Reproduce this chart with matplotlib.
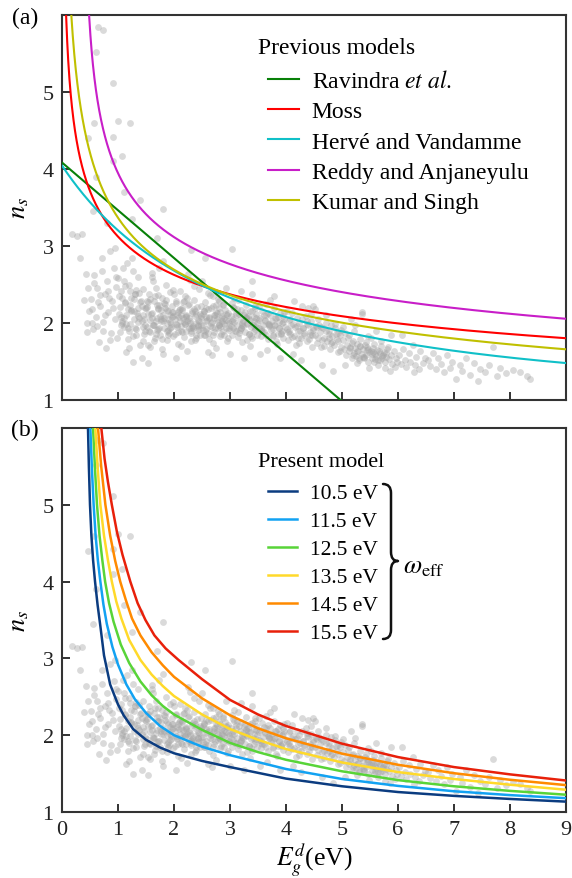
import numpy as np
import matplotlib
matplotlib.use("Agg")
import matplotlib.pyplot as plt
from matplotlib.path import Path
from matplotlib.patches import PathPatch

# ---------------- data ----------------
# grey cloud of materials (E_g^d in eV, n_s), per band-gap bin
cloud_00_x = [0.18, 0.27, 0.36, 0.42, 0.45, 0.40, 0.47, 0.33, 0.44, 0.48]
cloud_00_y = [3.16, 3.13, 3.15, 2.64, 2.00, 2.30, 2.45, 2.85, 1.88, 2.15]
cloud_out_x = [0.65, 0.73, 0.60, 0.91, 1.00, 1.21, 0.57, 0.47, 0.91, 1.07, 0.91, 0.60, 1.10, 1.80, 1.40, 3.03, 1.70, 0.55, 0.80, 1.25, 2.30, 2.55, 4.49, 5.35, 3.40]
cloud_out_y = [5.84, 5.80, 5.52, 5.12, 4.62, 4.60, 4.60, 4.40, 4.42, 4.17, 4.10, 3.90, 3.70, 3.48, 3.60, 2.96, 3.10, 3.45, 3.30, 3.35, 2.95, 2.85, 2.22, 2.14, 2.55]
cloud_05_x = [0.52, 0.55, 0.58, 0.61, 0.63, 0.66, 0.68, 0.71, 0.73, 0.76, 0.78, 0.80, 0.83, 0.85, 0.87, 0.90, 0.92, 0.95, 0.97, 0.99,
              0.53, 0.57, 0.62, 0.67, 0.72, 0.77, 0.82, 0.86, 0.91, 0.96, 0.54, 0.64, 0.74, 0.84, 0.94]
cloud_05_y = [2.31, 1.92, 2.62, 2.08, 2.45, 1.75, 2.22, 2.85, 2.01, 2.38, 1.68, 2.55, 2.14, 2.93, 1.87, 2.29, 2.71, 2.05, 2.47, 1.81,
              2.18, 2.52, 1.96, 2.36, 2.67, 2.11, 2.42, 1.78, 2.20, 2.60, 2.00, 2.27, 1.90, 2.33, 2.98]
cloud_10_x = [1.01, 1.03, 1.05, 1.07, 1.09, 1.11, 1.13, 1.15, 1.17, 1.19, 1.21, 1.23, 1.25, 1.27, 1.29, 1.31, 1.33, 1.35, 1.37, 1.39,
              1.41, 1.43, 1.45, 1.47, 1.49, 1.02, 1.06, 1.10, 1.14, 1.18, 1.22, 1.26, 1.30, 1.34, 1.38, 1.42, 1.46, 1.04, 1.12, 1.20,
              1.28, 1.36, 1.44, 1.08, 1.16, 1.24, 1.32, 1.40, 1.48, 1.00, 1.19, 1.33, 1.45, 1.27, 1.11]
cloud_10_y = [2.12, 1.88, 2.41, 2.03, 2.72, 1.95, 2.26, 1.62, 2.18, 2.49, 1.99, 2.33, 2.85, 1.83, 2.15, 2.38, 1.92, 2.60, 2.07, 1.71,
              2.29, 2.02, 2.44, 1.86, 2.20, 2.35, 1.97, 2.55, 2.10, 1.79, 2.24, 2.67, 1.94, 2.13, 2.39, 1.55, 2.05, 2.21, 2.48, 1.90,
              2.31, 2.09, 1.76, 2.00, 2.78, 2.17, 1.85, 2.27, 1.98, 2.58, 1.67, 2.43, 2.11, 1.50, 2.06]
cloud_15_x = [1.51, 1.52, 1.54, 1.55, 1.57, 1.58, 1.60, 1.61, 1.63, 1.64, 1.66, 1.67, 1.69, 1.70, 1.72, 1.73, 1.75, 1.76, 1.78, 1.79,
              1.81, 1.82, 1.84, 1.85, 1.87, 1.88, 1.90, 1.91, 1.93, 1.94, 1.96, 1.97, 1.99, 1.53, 1.56, 1.59, 1.62, 1.65, 1.68, 1.71,
              1.74, 1.77, 1.80, 1.83, 1.86, 1.89, 1.92, 1.95, 1.98, 1.50, 1.57, 1.63, 1.69, 1.75, 1.81, 1.87, 1.93, 1.99, 1.54, 1.66,
              1.78, 1.90, 1.60, 1.72, 1.84]
cloud_15_y = [1.95, 2.21, 1.72, 2.38, 2.04, 1.88, 2.60, 2.13, 1.97, 2.29, 1.81, 2.45, 2.07, 1.91, 2.18, 2.72, 1.85, 2.02, 2.33, 1.66,
              2.10, 1.94, 2.25, 2.50, 1.78, 2.00, 2.15, 1.87, 2.40, 1.99, 2.08, 2.22, 1.83, 2.27, 1.90, 2.12, 2.55, 1.76, 2.03, 2.36,
              1.93, 2.17, 1.60, 2.06, 2.30, 1.84, 2.11, 1.95, 2.43, 2.19, 1.69, 1.98, 2.24, 2.09, 2.80, 1.89, 2.01, 2.14, 1.48, 2.35,
              1.79, 2.05, 2.65, 1.92, 2.20]
cloud_20_x = [2.01, 2.02, 2.04, 2.05, 2.07, 2.08, 2.10, 2.11, 2.13, 2.14, 2.16, 2.17, 2.19, 2.20, 2.22, 2.23, 2.25, 2.26, 2.28, 2.29,
              2.31, 2.32, 2.34, 2.35, 2.37, 2.38, 2.40, 2.41, 2.43, 2.44, 2.46, 2.47, 2.49, 2.03, 2.06, 2.09, 2.12, 2.15, 2.18, 2.21,
              2.24, 2.27, 2.30, 2.33, 2.36, 2.39, 2.42, 2.45, 2.48, 2.00, 2.07, 2.13, 2.19, 2.25, 2.31, 2.37, 2.43, 2.49, 2.04, 2.16,
              2.28, 2.40, 2.10, 2.22, 2.34]
cloud_20_y = [2.05, 1.86, 2.28, 1.97, 2.14, 1.73, 2.41, 2.02, 1.90, 2.19, 2.07, 1.82, 2.35, 1.99, 2.11, 1.64, 2.24, 1.93, 2.03, 2.56,
              1.87, 2.16, 1.96, 2.30, 1.78, 2.09, 2.00, 2.21, 1.91, 2.44, 1.84, 2.12, 1.98, 2.26, 1.95, 2.08, 1.70, 2.17, 2.01, 1.89,
              2.33, 2.06, 1.94, 2.13, 2.48, 1.81, 2.04, 1.92, 2.22, 2.38, 1.88, 2.10, 1.99, 2.63, 1.76, 2.15, 1.96, 2.07, 1.55, 2.27,
              2.00, 1.85, 2.18, 2.09, 1.93]
cloud_25_x = [2.51, 2.52, 2.54, 2.55, 2.57, 2.58, 2.60, 2.62, 2.63, 2.65, 2.67, 2.68, 2.70, 2.72, 2.73, 2.75, 2.77, 2.78, 2.80, 2.82,
              2.83, 2.85, 2.87, 2.88, 2.90, 2.92, 2.93, 2.95, 2.97, 2.98, 2.53, 2.56, 2.59, 2.61, 2.64, 2.66, 2.69, 2.71, 2.74, 2.76,
              2.79, 2.81, 2.84, 2.86, 2.89, 2.91, 2.94, 2.96, 2.99, 2.50, 2.58, 2.67, 2.75, 2.83, 2.92, 2.55, 2.70, 2.85, 2.60, 2.80]
cloud_25_y = [1.98, 2.12, 1.85, 2.27, 2.03, 1.92, 2.18, 1.79, 2.08, 2.36, 1.95, 2.01, 2.22, 1.88, 2.10, 1.68, 2.05, 2.31, 1.97, 2.14,
              1.83, 2.02, 2.25, 1.90, 2.07, 2.45, 1.94, 2.11, 1.80, 2.00, 2.16, 1.89, 2.04, 2.39, 1.96, 2.20, 1.74, 2.06, 1.93, 2.13,
              2.01, 2.28, 1.86, 2.09, 1.99, 2.17, 1.77, 2.03, 1.91, 2.55, 2.08, 1.58, 2.24, 1.95, 2.12, 1.84, 2.35, 2.00, 1.62, 2.19]
cloud_30_x = [3.01, 3.02, 3.04, 3.05, 3.07, 3.09, 3.10, 3.12, 3.14, 3.15, 3.17, 3.19, 3.20, 3.22, 3.24, 3.25, 3.27, 3.29, 3.30, 3.32,
              3.34, 3.35, 3.37, 3.39, 3.40, 3.42, 3.44, 3.45, 3.47, 3.49, 3.03, 3.06, 3.11, 3.16, 3.21, 3.26, 3.31, 3.36, 3.41, 3.46,
              3.08, 3.18, 3.28, 3.38, 3.48, 3.13, 3.23, 3.33, 3.43, 3.00, 3.19, 3.35, 3.05, 3.25, 3.45]
cloud_30_y = [1.96, 2.09, 1.84, 2.21, 2.01, 1.90, 2.13, 1.97, 2.30, 1.82, 2.05, 1.93, 2.17, 1.75, 2.03, 2.11, 1.88, 2.24, 1.99, 2.06,
              1.86, 2.15, 1.95, 2.38, 1.80, 2.02, 1.92, 2.19, 2.07, 1.85, 2.26, 1.94, 2.10, 1.87, 2.00, 2.14, 1.78, 2.04, 1.97, 2.12,
              2.33, 1.91, 2.08, 1.83, 2.00, 2.18, 1.96, 2.09, 1.89, 1.60, 2.42, 1.70, 2.05, 1.55, 2.22]
cloud_35_x = [3.51, 3.53, 3.55, 3.57, 3.59, 3.61, 3.63, 3.65, 3.67, 3.69, 3.71, 3.73, 3.75, 3.77, 3.79, 3.81, 3.83, 3.85, 3.87, 3.89,
              3.91, 3.93, 3.95, 3.97, 3.99, 3.52, 3.56, 3.60, 3.64, 3.68, 3.72, 3.76, 3.80, 3.84, 3.88, 3.92, 3.96, 3.54, 3.62, 3.70,
              3.78, 3.86, 3.94, 3.66, 3.90]
cloud_35_y = [1.94, 2.07, 1.83, 2.16, 1.98, 1.88, 2.04, 2.25, 1.79, 1.96, 2.10, 1.91, 2.02, 1.85, 2.19, 1.97, 1.76, 2.08, 1.93, 2.13,
              1.87, 2.00, 1.81, 2.05, 1.95, 2.22, 1.90, 2.11, 1.84, 1.99, 2.30, 1.92, 2.06, 1.73, 2.01, 1.89, 2.14, 1.60, 2.03, 1.97,
              2.35, 1.86, 2.09, 1.65, 1.55]
cloud_40_x = [4.01, 4.03, 4.05, 4.07, 4.09, 4.11, 4.14, 4.16, 4.18, 4.20, 4.22, 4.24, 4.27, 4.29, 4.31, 4.33, 4.35, 4.38, 4.40, 4.42,
              4.44, 4.46, 4.48, 4.02, 4.06, 4.10, 4.15, 4.19, 4.23, 4.28, 4.32, 4.37, 4.41, 4.45, 4.49, 4.12, 4.26, 4.39]
cloud_40_y = [1.92, 1.78, 2.04, 1.86, 1.97, 2.13, 1.83, 1.95, 1.72, 2.06, 1.89, 2.00, 1.80, 2.22, 1.93, 1.85, 2.09, 1.76, 1.98, 1.88,
              2.02, 1.69, 1.94, 2.16, 1.90, 1.82, 2.28, 1.96, 1.74, 2.05, 1.87, 1.99, 1.79, 2.12, 1.91, 1.60, 1.52, 2.20]
cloud_45_x = [4.51, 4.53, 4.56, 4.58, 4.61, 4.63, 4.66, 4.68, 4.71, 4.73, 4.76, 4.78, 4.81, 4.83, 4.86, 4.88, 4.91, 4.93, 4.96, 4.98,
              4.52, 4.57, 4.62, 4.67, 4.72, 4.77, 4.82, 4.87, 4.92, 4.97, 4.64, 4.84]
cloud_45_y = [1.85, 1.96, 1.74, 2.05, 1.88, 1.69, 1.93, 1.80, 2.00, 1.77, 1.90, 1.66, 1.98, 1.83, 1.72, 1.94, 1.79, 1.87, 1.64, 1.91,
              2.18, 1.81, 1.95, 1.70, 2.10, 1.86, 1.75, 1.99, 1.62, 1.84, 1.45, 1.38]
cloud_50_x = [5.01, 5.03, 5.05, 5.07, 5.09, 5.11, 5.13, 5.15, 5.17, 5.19, 5.21, 5.23, 5.25, 5.27, 5.29, 5.31, 5.33, 5.35, 5.37, 5.39,
              5.41, 5.43, 5.45, 5.47, 5.49, 5.02, 5.12, 5.22, 5.32, 5.42, 5.16, 5.26, 5.36, 5.46, 5.06, 5.24, 5.38, 5.48]
cloud_50_y = [1.78, 1.66, 1.87, 1.59, 1.72, 1.81, 1.63, 1.69, 1.55, 1.76, 1.61, 1.68, 1.57, 1.73, 1.64, 1.52, 1.70, 1.60, 1.66, 1.54,
              1.71, 1.58, 1.65, 1.50, 1.62, 1.95, 1.84, 1.90, 1.79, 1.75, 2.05, 1.48, 2.12, 1.83, 1.45, 1.97, 1.56, 1.42]
cloud_55_x = [5.51, 5.53, 5.55, 5.57, 5.59, 5.61, 5.63, 5.65, 5.67, 5.69, 5.71, 5.73, 5.75, 5.77, 5.79, 5.81, 5.84, 5.87, 5.90, 5.93,
              5.96, 5.99, 5.52, 5.58, 5.64, 5.70, 5.76, 5.82, 5.88, 5.94, 5.60, 5.85]
cloud_55_y = [1.63, 1.55, 1.68, 1.50, 1.60, 1.57, 1.65, 1.52, 1.61, 1.70, 1.54, 1.58, 1.62, 1.49, 1.56, 1.66, 1.53, 1.59, 1.47, 1.64,
              1.55, 1.50, 1.80, 1.73, 1.45, 1.77, 1.41, 1.69, 1.84, 1.43, 1.90, 1.38]
cloud_60_x = [6.02, 6.05, 6.09, 6.12, 6.15, 6.19, 6.22, 6.26, 6.30, 6.33, 6.37, 6.40, 6.44, 6.48, 6.07, 6.28,
              6.53, 6.58, 6.62, 6.67, 6.72, 6.77, 6.82, 6.87, 6.92, 6.97]
cloud_60_y = [1.58, 1.47, 1.66, 1.52, 1.43, 1.61, 1.50, 1.72, 1.45, 1.56, 1.40, 1.63, 1.48, 1.54, 1.85, 1.37,
              1.52, 1.44, 1.61, 1.40, 1.55, 1.47, 1.36, 1.58, 1.42, 1.50]
cloud_70_x = [7.03, 7.10, 7.15, 7.22, 7.28, 7.35, 7.42, 7.47, 7.55, 7.62, 7.70, 7.76, 7.83, 7.92, 8.05, 8.18, 8.30, 8.36]
cloud_70_y = [1.27, 1.45, 1.38, 1.55, 1.33, 1.48, 1.25, 1.40, 1.36, 1.45, 1.69, 1.31, 1.42, 1.35, 1.39, 1.36, 1.31, 1.27]
# extra points of the dense core
core_a_x = [1.05, 1.12, 1.18, 1.24, 1.31, 1.36, 1.42, 1.48, 1.53, 1.58, 1.64, 1.71, 1.77, 1.83, 1.89, 1.96,
            1.08, 1.15, 1.22, 1.29, 1.35, 1.44, 1.51, 1.60, 1.68, 1.74, 1.81, 1.87, 1.93, 1.99]
core_a_y = [2.08, 2.27, 1.93, 2.16, 2.38, 2.01, 2.22, 1.89, 2.12, 2.31, 1.97, 2.19, 2.05, 2.26, 1.91, 2.14,
            2.33, 1.99, 2.42, 2.05, 2.20, 1.95, 2.28, 2.07, 1.86, 2.24, 2.02, 2.17, 1.94, 2.09]
core_b_x = [2.03, 2.09, 2.15, 2.21, 2.27, 2.33, 2.39, 2.45, 2.51, 2.57, 2.63, 2.69, 2.75, 2.81, 2.87, 2.93, 2.99,
            2.06, 2.12, 2.18, 2.24, 2.30, 2.36, 2.42, 2.48, 2.54, 2.60, 2.66, 2.72, 2.78, 2.84, 2.90, 2.96]
core_b_y = [1.99, 2.17, 1.88, 2.08, 2.25, 1.95, 2.12, 2.03, 1.91, 2.20, 2.06, 1.84, 2.14, 1.98, 2.23, 2.04, 1.93,
            2.11, 1.96, 2.29, 2.02, 1.90, 2.18, 1.97, 2.09, 2.15, 1.87, 2.00, 2.10, 1.94, 2.07, 1.85, 2.13]
core_c_x = [3.04, 3.10, 3.16, 3.22, 3.28, 3.34, 3.40, 3.46, 3.52, 3.58, 3.64, 3.70, 3.76, 3.82, 3.88, 3.94,
            3.07, 3.19, 3.31, 3.43, 3.55, 3.67, 3.79, 3.91]
core_c_y = [2.02, 1.90, 2.12, 1.98, 2.07, 1.86, 2.16, 1.95, 2.04, 1.89, 2.10, 1.99, 1.83, 2.06, 1.93, 2.01,
            2.19, 1.94, 2.00, 2.08, 1.92, 2.13, 1.97, 1.86]
core_d_x = [4.04, 4.13, 4.21, 4.30, 4.38, 4.47, 4.55, 4.64, 4.72, 4.81, 4.89, 4.98, 4.08, 4.25, 4.42, 4.59, 4.76, 4.93,
            5.14, 5.20, 5.27, 5.33, 5.40, 5.46, 5.53, 5.59, 5.66, 5.72, 5.79, 5.18, 5.30, 5.44, 5.56, 5.68]
core_d_y = [1.88, 1.99, 1.81, 1.93, 2.03, 1.85, 1.95, 1.78, 1.90, 1.74, 1.86, 1.69, 2.05, 1.90, 1.84, 1.98, 1.80, 1.76,
            1.67, 1.58, 1.63, 1.70, 1.56, 1.66, 1.60, 1.53, 1.64, 1.57, 1.61, 1.74, 1.55, 1.69, 1.62, 1.52]

# previous models (published constants)
ravindra_a, ravindra_b = 4.084, 0.62          # n = a - b*Eg
moss_k = 95.0                                  # n^4 Eg = k
herve_A, herve_B = 13.6, 3.47                  # n = sqrt(1 + (A/(Eg+B))^2)
reddy_k, reddy_e0 = 154.0, 0.365               # n^4 (Eg - e0) = k
kumar_K, kumar_C = 3.3668, -0.32234            # n = K Eg^C
prev_labels = ["Ravindra $\\mathit{et\\ al.}$", "Moss", "Hervé and Vandamme",
               "Reddy and Anjaneyulu", "Kumar and Singh"]
prev_colors = ["#088008", "#ff0000", "#10c0c8", "#c81ec8", "#c0c000"]

# present model curves
present_labels = ["10.5 eV", "11.5 eV", "12.5 eV", "13.5 eV", "14.5 eV", "15.5 eV"]
present_colors = ["#0b3c80", "#12a2f2", "#58d438", "#ffd92a", "#ff8a00", "#e8200a"]
pm_eg_105 = [0.464, 0.48, 0.50, 0.525, 0.555, 0.59, 0.635, 0.685, 0.75, 0.86, 1.0, 1.1, 1.27, 1.5, 1.75, 2.0, 2.5, 3.0, 4.0, 5.0, 6.0, 7.0, 8.0, 9.0]
pm_n_105 = [6.0, 5.5, 5.0, 4.6, 4.28, 4.0, 3.7, 3.42, 3.04, 2.66, 2.40, 2.26, 2.08, 1.94, 1.84, 1.765, 1.665, 1.585, 1.435, 1.335, 1.26, 1.21, 1.17, 1.135]
pm_eg_115 = [0.506, 0.535, 0.565, 0.60, 0.64, 0.685, 0.74, 0.80, 0.90, 1.0, 1.15, 1.3, 1.5, 1.75, 2.0, 2.5, 3.0, 4.0, 5.0, 6.0, 7.0, 8.0, 9.0]
pm_n_115 = [6.0, 5.45, 5.0, 4.6, 4.28, 4.0, 3.7, 3.45, 3.15, 2.92, 2.66, 2.47, 2.29, 2.12, 2.0, 1.85, 1.74, 1.56, 1.43, 1.34, 1.27, 1.22, 1.18]
pm_eg_125 = [0.554, 0.59, 0.625, 0.67, 0.72, 0.77, 0.84, 0.92, 1.05, 1.2, 1.4, 1.6, 1.8, 2.0, 2.5, 3.0, 3.5, 4.0, 5.0, 6.0, 7.0, 8.0, 9.0]
pm_n_125 = [6.0, 5.45, 5.0, 4.6, 4.28, 4.0, 3.72, 3.48, 3.18, 2.94, 2.70, 2.52, 2.38, 2.27, 2.07, 1.90, 1.78, 1.68, 1.53, 1.415, 1.335, 1.275, 1.225]
pm_eg_135 = [0.595, 0.64, 0.685, 0.75, 0.82, 0.89, 0.97, 1.06, 1.2, 1.4, 1.6, 1.8, 2.0, 2.5, 3.0, 3.5, 4.0, 5.0, 6.0, 7.0, 8.0, 9.0]
pm_n_135 = [6.0, 5.45, 5.0, 4.6, 4.28, 4.0, 3.74, 3.52, 3.24, 2.98, 2.79, 2.64, 2.51, 2.27, 2.08, 1.94, 1.82, 1.645, 1.52, 1.43, 1.355, 1.29]
pm_eg_145 = [0.643, 0.70, 0.775, 0.86, 0.95, 1.04, 1.14, 1.25, 1.4, 1.6, 1.8, 2.0, 2.5, 3.0, 3.5, 4.0, 5.0, 6.0, 7.0, 8.0, 9.0]
pm_n_145 = [6.0, 5.5, 5.0, 4.6, 4.27, 4.0, 3.76, 3.52, 3.30, 3.08, 2.91, 2.76, 2.48, 2.26, 2.09, 1.96, 1.76, 1.615, 1.505, 1.42, 1.35]
pm_eg_155 = [0.702, 0.76, 0.82, 0.89, 0.98, 1.08, 1.22, 1.35, 1.49, 1.65, 1.85, 2.08, 2.5, 3.0, 3.5, 4.0, 5.0, 6.0, 7.0, 8.0, 9.0]
pm_n_155 = [6.0, 5.6, 5.3, 5.0, 4.65, 4.35, 4.0, 3.72, 3.50, 3.30, 3.13, 2.98, 2.73, 2.46, 2.27, 2.12, 1.89, 1.715, 1.585, 1.49, 1.41]

x_ticks = [0, 1, 2, 3, 4, 5, 6, 7, 8, 9]
y_ticks = [1, 2, 3, 4, 5]

# ---------------- figure ----------------
plt.rcParams['font.family'] = ['Liberation Serif', 'DejaVu Serif']
plt.rcParams['mathtext.fontset'] = 'stix'

W, H = 572, 879
fig = plt.figure(figsize=(W / 100, H / 100), dpi=100)


def fx(px):
    return px / W


def fy(py):
    return 1 - py / H


ax1 = fig.add_axes([fx(62), fy(401), fx(566) - fx(62), fy(16) - fy(401)])
ax2 = fig.add_axes([fx(62), fy(813), fx(566) - fx(62), fy(429) - fy(813)])

cloud_x = []
cloud_y = []
for xs, ys in [(cloud_00_x, cloud_00_y), (cloud_out_x, cloud_out_y), (cloud_05_x, cloud_05_y),
               (cloud_10_x, cloud_10_y), (cloud_15_x, cloud_15_y), (cloud_20_x, cloud_20_y),
               (cloud_25_x, cloud_25_y), (cloud_30_x, cloud_30_y), (cloud_35_x, cloud_35_y),
               (cloud_40_x, cloud_40_y), (cloud_45_x, cloud_45_y), (cloud_50_x, cloud_50_y),
               (cloud_55_x, cloud_55_y), (cloud_60_x, cloud_60_y), (cloud_70_x, cloud_70_y),
               (core_a_x, core_a_y), (core_b_x, core_b_y), (core_c_x, core_c_y), (core_d_x, core_d_y)]:
    n = min(len(xs), len(ys))
    cloud_x += xs[:n]
    cloud_y += ys[:n]

for ax in (ax1, ax2):
    ax.scatter(cloud_x, cloud_y, s=24, color="#a4a4a4", alpha=0.4, linewidths=0, zorder=1)
    ax.set_xlim(0, 9)
    ax.set_ylim(1, 6)
    ax.set_xticks(x_ticks)
    ax.set_yticks(y_ticks)
    ax.tick_params(direction='in', length=6, width=1.3, labelsize=16, colors='#222222',
                   top=False, right=False, pad=6)
    for sp in ax.spines.values():
        sp.set_linewidth(1.5)
        sp.set_color('#333333')
    ax.set_ylabel("$n_s$", fontsize=19, labelpad=8)

ax1.tick_params(labelbottom=False)

# previous models
eg = np.linspace(0.003, 9, 2000)
n_rav = ravindra_a - ravindra_b * eg
n_moss = (moss_k / eg) ** 0.25
n_herve = np.sqrt(1 + (herve_A / (eg + herve_B)) ** 2)
eg_r = eg[eg > reddy_e0 + 0.01]
n_reddy = (reddy_k / (eg_r - reddy_e0)) ** 0.25
n_kumar = kumar_K * eg ** kumar_C

prev_lines = []
for (xx, yy), lab, col in zip([(eg, n_rav), (eg, n_moss), (eg, n_herve), (eg_r, n_reddy), (eg, n_kumar)],
                              prev_labels, prev_colors):
    ln, = ax1.plot(xx, yy, color=col, lw=1.5, label=lab, zorder=3)
    prev_lines.append(ln)

# present model
pres_lines = []
for (xx, yy), lab, col in zip([(pm_eg_105, pm_n_105), (pm_eg_115, pm_n_115), (pm_eg_125, pm_n_125),
                               (pm_eg_135, pm_n_135), (pm_eg_145, pm_n_145), (pm_eg_155, pm_n_155)],
                              present_labels, present_colors):
    ln, = ax2.plot(xx, yy, color=col, lw=1.8, label=lab, zorder=3, solid_joinstyle='round')
    pres_lines.append(ln)

ax2.set_xlabel("$E_g^d$(eV)", fontsize=18.5, labelpad=0)

# legends
fig.text(fx(258), fy(48), "Previous models", fontsize=17, ha='left', va='center')
leg1 = ax1.legend(handles=prev_lines, loc='upper left', bbox_to_anchor=(fx(268), fy(71)),
                  bbox_transform=fig.transFigure, frameon=False, fontsize=17,
                  handlelength=1.3, handletextpad=0.55, labelspacing=0.37,
                  borderpad=0, borderaxespad=0)

fig.text(fx(258), fy(463), "Present model", fontsize=16, ha='left', va='center')
leg2 = ax2.legend(handles=pres_lines, loc='upper left', bbox_to_anchor=(fx(268), fy(484)),
                  bbox_transform=fig.transFigure, frameon=False, fontsize=15.5,
                  handlelength=1.35, handletextpad=0.6, labelspacing=0.37,
                  borderpad=0, borderaxespad=0)

# brace and omega_eff label
x0, xs_, xt = fx(383), fx(391), fx(398)
yt, ym, yb = fy(485), fy(562), fy(640)
d = 9 / H
verts = [(x0, yt), (xs_, yt), (xs_, yt - d), (xs_, ym + d), (xs_, ym), (xt, ym),
         (xs_, ym), (xs_, ym - d), (xs_, yb + d), (xs_, yb), (x0, yb)]
codes = [Path.MOVETO, Path.CURVE3, Path.CURVE3, Path.LINETO, Path.CURVE3, Path.CURVE3,
         Path.CURVE3, Path.CURVE3, Path.LINETO, Path.CURVE3, Path.CURVE3]
brace = PathPatch(Path(verts, codes), transform=fig.transFigure, fill=False, lw=1.8,
                  edgecolor='#111111', capstyle='round', joinstyle='round')
fig.patches.append(brace)
fig.text(fx(403), fy(568), "$\\omega_{\\rm eff}$", fontsize=19, ha='left', va='center')

# panel labels
fig.text(fx(25), fy(18), "(a)", fontsize=17, ha='center', va='center')
fig.text(fx(25), fy(430), "(b)", fontsize=17, ha='center', va='center')

fig.savefig("out.png", dpi=100)
